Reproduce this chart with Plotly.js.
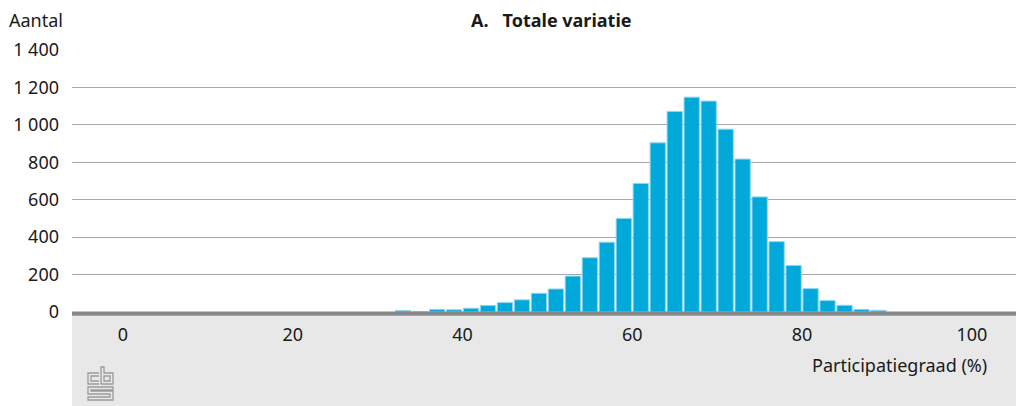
<!DOCTYPE html>
<html>
<head>
<meta charset="utf-8">
<script src="https://cdn.plot.ly/plotly-3.0.1.min.js"></script>
<style>
html,body{margin:0;padding:0;background:#fff;}
#chart{width:1016px;height:406px;}
</style>
</head>
<body>
<div id="chart"></div>
<script>
// Data: histogram of participation rate (%), bins of width 2
const binStarts = [32,34,36,38,40,42,44,46,48,50,52,54,56,58,60,62,64,66,68,70,72,74,76,78,80,82,84,86,88];
const counts    = [8,3,14,12,20,35,50,65,100,123,192,290,373,500,687,904,1072,1148,1127,977,817,615,376,249,125,61,36,14,9];
const binWidth = 2;
const xTickVals = [0,20,40,60,80,100];
const yTickVals = [0,200,400,600,800,1000,1200,1400];

const chartTitle = "A.\u00a0\u00a0\u00a0Totale variatie";
const yLabel = "Aantal";
const xLabel = "Participatiegraad (%)";

// layout geometry (pixels)
const W = 1016, H = 406;
const M = {l:72, r:0, t:50, b:94};
const PW = W - M.l - M.r, PH = H - M.t - M.b;
const px = x => (x - M.l) / PW;
const py = y => (H - M.b - y) / PH;

const FONT = "'Noto Sans', 'Open Sans', sans-serif";
const FS = 18;
const TXT = "#1a1a1a";

function logoPath(){
  const P = (x,y)=> px(x).toFixed(5)+','+py(y).toFixed(5);
  return [
    'M'+P(99,373)+'L'+P(88,373)+'L'+P(88,384)+'L'+P(99,384),
    'M'+P(99,376)+'L'+P(91,376)+'L'+P(91,381)+'L'+P(99,381),
    'M'+P(101,367)+'L'+P(104,367)+'L'+P(104,373)+'L'+P(113,373)+'L'+P(113,384)+'L'+P(101,384)+'Z',
    'M'+P(104,376)+'L'+P(110,376)+'L'+P(110,381)+'L'+P(104,381)+'Z',
    'M'+P(113,387)+'L'+P(88,387)+'L'+P(88,394)+'L'+P(110,394)+'L'+P(110,397)+'L'+P(88,397)+'L'+P(88,400)+'L'+P(113,400)+'L'+P(113,391)+'L'+P(91,391)+'L'+P(91,390)+'L'+P(113,390)+'Z'
  ].join(' ');
}

const trace = {
  type: 'bar',
  x: binStarts.map(v => v + binWidth/2),
  y: counts,
  width: binWidth*0.9,
  marker: {color: '#00a9d9', line: {color: '#8fd6ef', width: 1}},
  hoverinfo: 'x+y'
};

const layout = {
  width: W, height: H,
  margin: M,
  paper_bgcolor: '#fff',
  plot_bgcolor: '#fff',
  showlegend: false,
  font: {family: FONT, size: FS, color: TXT},
  separators: ', ',
  xaxis: {
    range: [-6, 105.2],
    tickvals: xTickVals,
    showgrid: false, zeroline: false, showline: false,
    ticks: '', ticklabelstandoff: 10,
    tickfont: {family: FONT, size: FS, color: TXT},
    fixedrange: true
  },
  yaxis: {
    range: [0, 1400],
    tickvals: yTickVals,
    separatethousands: true,
    showgrid: true, gridcolor: '#a8a8a8', gridwidth: 1,
    zeroline: false, showline: false,
    ticks: '', ticklabelstandoff: 12,
    tickfont: {family: FONT, size: FS, color: TXT},
    fixedrange: true
  },
  shapes: [
    {type:'rect', xref:'paper', yref:'paper', x0:0, x1:1, y0:py(316), y1:py(H), fillcolor:'#e8e8e8', line:{width:0}, layer:'below'},
    {type:'rect', xref:'paper', yref:'paper', x0:0, x1:1, y0:py(311.5), y1:py(315.8), fillcolor:'#878787', line:{width:0}, layer:'above'},
    {type:'path', xref:'paper', yref:'paper', path: logoPath(), line:{color:'#9a9a9a', width:1.3}, fillcolor:'rgba(0,0,0,0)', layer:'above'}
  ],
  annotations: [
    {text: '<b>'+chartTitle+'</b>', xref:'paper', yref:'paper', x: px(551), y: py(20), xanchor:'center', yanchor:'middle', showarrow:false, font:{family:FONT, size:FS, color:TXT}},
    {text: yLabel, xref:'paper', yref:'paper', x: px(7), y: py(20), xanchor:'left', yanchor:'middle', showarrow:false, font:{family:FONT, size:FS, color:TXT}},
    {text: xLabel, xref:'paper', yref:'paper', x: px(989), y: py(365), xanchor:'right', yanchor:'middle', showarrow:false, font:{family:FONT, size:FS, color:TXT}}
  ]
};

Plotly.newPlot('chart', [trace], layout, {displayModeBar: false, staticPlot: true});
</script>
</body>
</html>
